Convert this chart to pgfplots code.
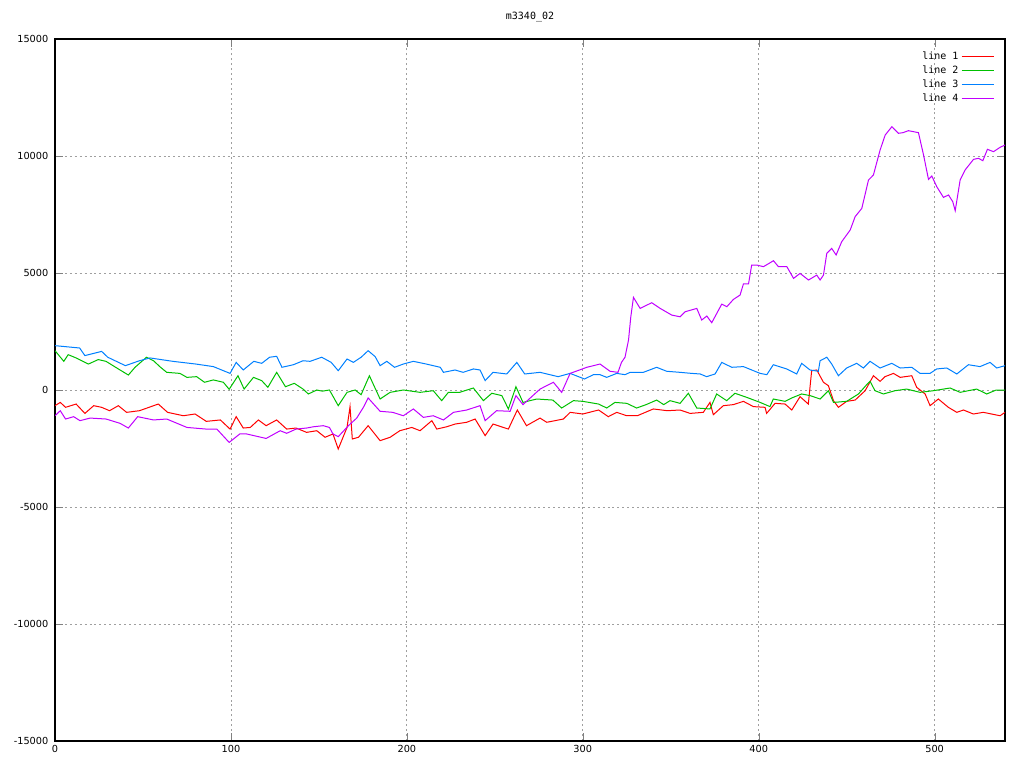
\documentclass[border=0pt]{standalone}
\usepackage{pgfplots}
\pgfplotsset{compat=1.18}
\usepackage{fontspec}
\setmainfont{DejaVu Sans}
\setmonofont{DejaVu Sans Mono}
\definecolor{gred}{RGB}{255,0,0}
\definecolor{ggreen}{RGB}{0,192,0}
\definecolor{gblue}{RGB}{0,128,255}
\definecolor{gmag}{RGB}{192,0,255}
\begin{document}
\begin{tikzpicture}
\begin{axis}[
  scale only axis,
  width=712.5pt, height=526.5pt,
  xmin=0, xmax=540, ymin=-15000, ymax=15000,
  xtick={0,100,...,500}, ytick={-15000,-10000,...,15000},
  scaled ticks=false,
  /pgf/number format/.cd, 1000 sep={}, assume math mode=true,
  /pgfplots/.cd,
  tick label style={font=\fontsize{7.3}{8}\selectfont},
  yticklabel style={xshift=-1.5pt},
  tick align=inside, tickpos=both,
  major tick length=6pt,
  grid=major,
  grid style={gray!75, line width=0.6pt, dash pattern=on 1.5pt off 2.2pt},
  axis line style={line width=0.8pt},
  title={\ttfamily\fontsize{7.5}{8}\selectfont m3340\_02},
  title style={yshift=3pt},
  legend plot pos=right,
  legend cell align=right,
  legend style={draw=none, fill=none, at={(0.993,0.99)}, anchor=north east,
    font=\ttfamily\fontsize{7.5}{9}\selectfont, row sep=-0.8pt},
  legend image code/.code={\draw[#1] (0pt,0pt) -- (24pt,0pt);},
  every axis plot/.append style={line width=0.75pt},
]
\addplot[gred] table {
0 -670
3 -530
6 -740
12 -600
17 -1000
22 -670
26.5 -740
31 -885
36 -670
40.7 -955
48 -885
58.7 -600
64 -955
73 -1100
79.6 -1025
86 -1340
94 -1280
99.5 -1670
103 -1140
107 -1625
111 -1600
115.6 -1280
120 -1525
126 -1280
131.7 -1670
137 -1625
143 -1810
148.8 -1740
153.5 -2020
158 -1880
161 -2520
166 -1600
167.7 -710
169 -2095
172.5 -2020
178 -1525
184.8 -2165
190.5 -2020
196 -1740
202.8 -1600
207.5 -1740
214.2 -1310
217 -1670
222.7 -1570
227.4 -1455
234 -1380
238.8 -1240
244.5 -1950
249 -1455
257.7 -1670
262.8 -855
268 -1525
275.7 -1200
279.5 -1380
289 -1240
292.8 -955
300 -1025
309 -855
314.5 -1140
319.3 -955
325 -1100
331 -1100
340.1 -810
348 -885
355.3 -855
361 -1000
368.5 -955
372.3 -530
374.2 -1055
379.9 -670
385.6 -625
391.3 -485
397 -710
403.6 -740
404.5 -1000
409.3 -570
415 -600
418.8 -855
423.5 -285
428.2 -600
430.1 825
433 855
436.8 330
439.6 185
442.5 -455
445.3 -740
450 -485
454.8 -430
460.5 -30
465.2 610
469 370
471.8 570
476.6 710
480.4 540
487 610
489.8 115
494.6 -170
497.4 -670
502.1 -385
507.8 -740
512.6 -955
516.4 -855
522 -1025
527.7 -955
537.2 -1100
540 -955
};
\addlegendentry{line 1}
\addplot[ggreen] table {
0 1680
5 1225
7.5 1510
12 1370
19 1110
24.6 1300
29 1225
36 900
41.7 640
45.5 970
52 1400
56 1250
60 970
63.5 755
71 710
75 540
80.5 570
85 330
90 430
95.7 330
99 30
104 610
107.5 40
112.8 540
117.5 400
121 115
126 755
131 140
136 285
141 40
144 -170
148.8 0
152 -50
156 0
161 -670
166 -100
170.6 0
174 -200
178.7 610
184.8 -385
190.5 -100
198 0
207.5 -100
215 -30
219.8 -455
223.6 -100
230 -100
237.8 85
243.5 -455
248.3 -140
254 -240
257.7 -810
262 140
266 -530
273.8 -385
283 -430
288 -770
294.7 -455
300 -485
309 -600
313.6 -770
318.3 -530
325 -570
330.6 -770
336 -625
342 -430
346 -625
349.6 -455
355.3 -570
360 -140
364.8 -770
372.3 -810
376.1 -170
381.8 -455
386.5 -140
393.2 -315
400.8 -530
406.4 -710
408.3 -385
415 -485
418.8 -340
424.4 -170
429.2 -240
434.9 -385
439.6 -30
442.5 -530
450 -485
456.7 -170
461.4 230
463.3 370
466.1 -30
470.9 -170
477.5 -30
484.1 40
491.7 -100
499.3 -30
508.8 85
514.5 -100
523.9 40
529.6 -170
535 0
540 0
};
\addlegendentry{line 2}
\addplot[gblue] table {
0 1895
14 1795
17 1470
26.5 1650
30 1400
40 1040
48 1250
54 1370
67 1225
80 1110
90 1000
99.5 710
103 1180
107 855
113 1225
117.5 1140
122 1400
126 1440
129 970
135.5 1080
141 1250
145 1225
151.6 1400
157 1180
161 825
166 1325
169.6 1180
174 1400
178 1680
182 1425
184.8 1040
188.6 1225
193 970
198 1110
203.7 1225
211 1110
219 970
220.8 755
227.4 855
232 755
237.8 900
241.6 855
244.5 400
249 755
256.8 685
262.5 1180
267 685
275.7 755
286 570
292.8 710
301 470
306 655
309.8 655
313.6 540
319.3 710
324 655
326.9 755
334.4 755
342 970
347.7 800
355.3 755
361.9 710
366.7 685
370.4 570
375.2 685
379 1180
384.7 970
391.3 1000
400.8 710
404.6 655
408.3 1080
415.9 900
421.6 685
424.4 1140
429.2 855
433.9 800
434.9 1250
438.7 1400
441.5 1110
445.3 610
450 940
455.7 1140
459.5 940
463.3 1225
469 940
475.6 1140
480.4 940
487 970
491.7 710
497.4 710
501.2 900
506.9 940
512.6 685
519.2 1080
525.8 1000
531.5 1180
535.3 940
540 1040
};
\addlegendentry{line 3}
\addplot[gmag] table {
0 -1100
3 -885
6 -1240
10.6 -1140
14.2 -1310
20 -1200
29 -1240
37 -1425
41.7 -1625
47 -1140
56 -1280
63.5 -1240
75 -1600
86 -1670
92 -1670
99 -2240
105 -1880
109 -1880
120 -2070
128 -1740
131.7 -1850
137 -1670
143 -1625
147 -1570
152.5 -1525
156 -1600
158 -1880
161 -1995
166.8 -1525
171.5 -1200
175.3 -740
178 -340
184.8 -910
192 -955
198 -1100
203.7 -810
209.4 -1170
215 -1100
220.8 -1280
226.5 -955
234 -855
241.6 -670
244.5 -1310
251 -885
258.7 -910
262 -240
266 -625
275.7 40
283.3 330
288 -100
292.8 710
302.3 970
309.8 1110
315.5 800
320 755
322 1180
324 1400
326 2134
327.3 3130
328.8 3958
332.6 3487
339.2 3730
344 3487
350.6 3200
355.3 3130
358.2 3345
364.8 3487
367.6 2990
370.5 3160
373.3 2875
379 3670
381.9 3560
385.6 3870
389.4 4057
391.3 4530
394.2 4530
396 5340
398.9 5340
402.7 5270
408.4 5525
411.2 5270
416 5270
419.8 4770
423.5 4983
428.3 4700
433 4910
434.9 4700
436.8 4910
438.7 5840
441.5 6050
444 5770
447.2 6340
452 6836
454.8 7406
458.6 7762
462.4 8974
465.2 9187
469 10256
471.9 10897
475.7 11254
479.4 10969
482 10997
485.1 11082
490.8 10997
493.7 10042
496.5 9002
498.4 9144
501.2 8689
505 8232
507.9 8333
510.3 8047
511.7 7662
514.5 8974
517.3 9401
522.1 9857
524.9 9900
527.4 9800
530 10285
533.5 10185
537.2 10370
540 10470
};
\addlegendentry{line 4}
\end{axis}
\pgfresetboundingbox
\path[use as bounding box] ([shift={(-41.25pt,-20.25pt)}]current axis.south west) rectangle ([shift={(726.75pt,555.75pt)}]current axis.south west);
\end{tikzpicture}
\end{document}
